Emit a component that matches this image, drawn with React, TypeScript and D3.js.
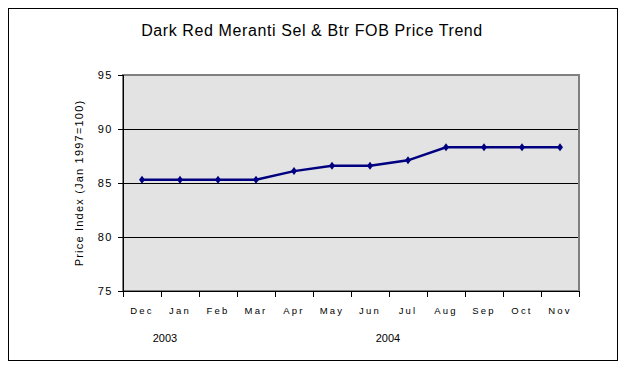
import React from "react";
import * as d3 from "d3";

const months = ["Dec", "Jan", "Feb", "Mar", "Apr", "May", "Jun", "Jul", "Aug", "Sep", "Oct", "Nov"];
const values = [85.3, 85.3, 85.3, 85.3, 86.1, 86.6, 86.6, 87.1, 88.3, 88.3, 88.3, 88.3];
const yTicks = [75, 80, 85, 90, 95];
const years = ["2003", "2004"];
const yearMonths = ["Jan", "Jul"];
const title = "Dark Red Meranti Sel & Btr FOB Price Trend";
const yTitle = "Price Index (Jan 1997=100)";

export default function App() {
  const W = 624, H = 368;
  const left = 123, right = 579, top = 75, bottom = 291;
  const x = d3.scaleBand<string>().domain(months).range([left, right]);
  const y = d3.scaleLinear().domain([75, 95]).range([bottom, top]);
  const line = d3
    .line<number>()
    .x((_, i) => (x(months[i]) as number) + x.bandwidth() / 2)
    .y((d) => y(d));
  const font = "Arial, 'Liberation Sans', sans-serif";
  const edges = [...months.map((m) => x(m) as number), right];
  const yearDx = [4, -1];
  return (
    <svg width={W} height={H} style={{ position: "absolute", left: 0, top: 0 }} fontFamily={font}>
      <rect x={0} y={0} width={W} height={H} fill="#fff" />
      <rect x={8.5} y={8.5} width={609} height={352} fill="#fff" stroke="#000" strokeWidth={1} />
      <text x={312} y={36} textAnchor="middle" fontSize={16} letterSpacing={0.6} fill="#000">{title}</text>
      <rect x={left} y={top} width={right - left} height={bottom - top} fill="#e2e3e2" stroke="#808080" strokeWidth={2} />
      {yTicks.slice(1, -1).map((t) => (
        <line key={t} x1={left} x2={right - 1} y1={Math.round(y(t)) + 0.5} y2={Math.round(y(t)) + 0.5} stroke="#000" strokeWidth={1} />
      ))}
      <line x1={left + 0.5} x2={left + 0.5} y1={top} y2={bottom + 1} stroke="#000" strokeWidth={1} />
      <line x1={left - 5} x2={right} y1={bottom + 0.5} y2={bottom + 0.5} stroke="#000" strokeWidth={1} />
      {yTicks.map((t) => (
        <g key={t}>
          <line x1={left - 5} x2={left} y1={Math.round(y(t)) + 0.5} y2={Math.round(y(t)) + 0.5} stroke="#000" />
          <text x={113} y={y(t) + 4} textAnchor="end" fontSize={11} letterSpacing={1.5} fill="#000">{t}</text>
        </g>
      ))}
      {edges.map((e, i) => (
        <line key={i} x1={Math.round(e) + 0.5} x2={Math.round(e) + 0.5} y1={bottom} y2={bottom + 6} stroke="#000" />
      ))}
      {months.map((m) => (
        <text key={m} x={(x(m) as number) + x.bandwidth() / 2} y={314} textAnchor="middle" fontSize={9.5} letterSpacing={2.2} fill="#000">{m}</text>
      ))}
      {years.map((yr, i) => (
        <text key={yr} x={(x(yearMonths[i]) as number) + yearDx[i]} y={342} textAnchor="middle" fontSize={11} fill="#000">{yr}</text>
      ))}
      <text transform={`translate(83,${(top + bottom) / 2}) rotate(-90)`} textAnchor="middle" fontSize={11} letterSpacing={1.2} fill="#000">{yTitle}</text>
      <path d={line(values) || ""} fill="none" stroke="#000080" strokeWidth={2.5} />
      {values.map((v, i) => {
        const cx = (x(months[i]) as number) + x.bandwidth() / 2;
        const cy = y(v);
        return <path key={i} d={`M${cx},${cy - 4}L${cx + 3},${cy}L${cx},${cy + 4}L${cx - 3},${cy}Z`} fill="#000080" />;
      })}
    </svg>
  );
}
